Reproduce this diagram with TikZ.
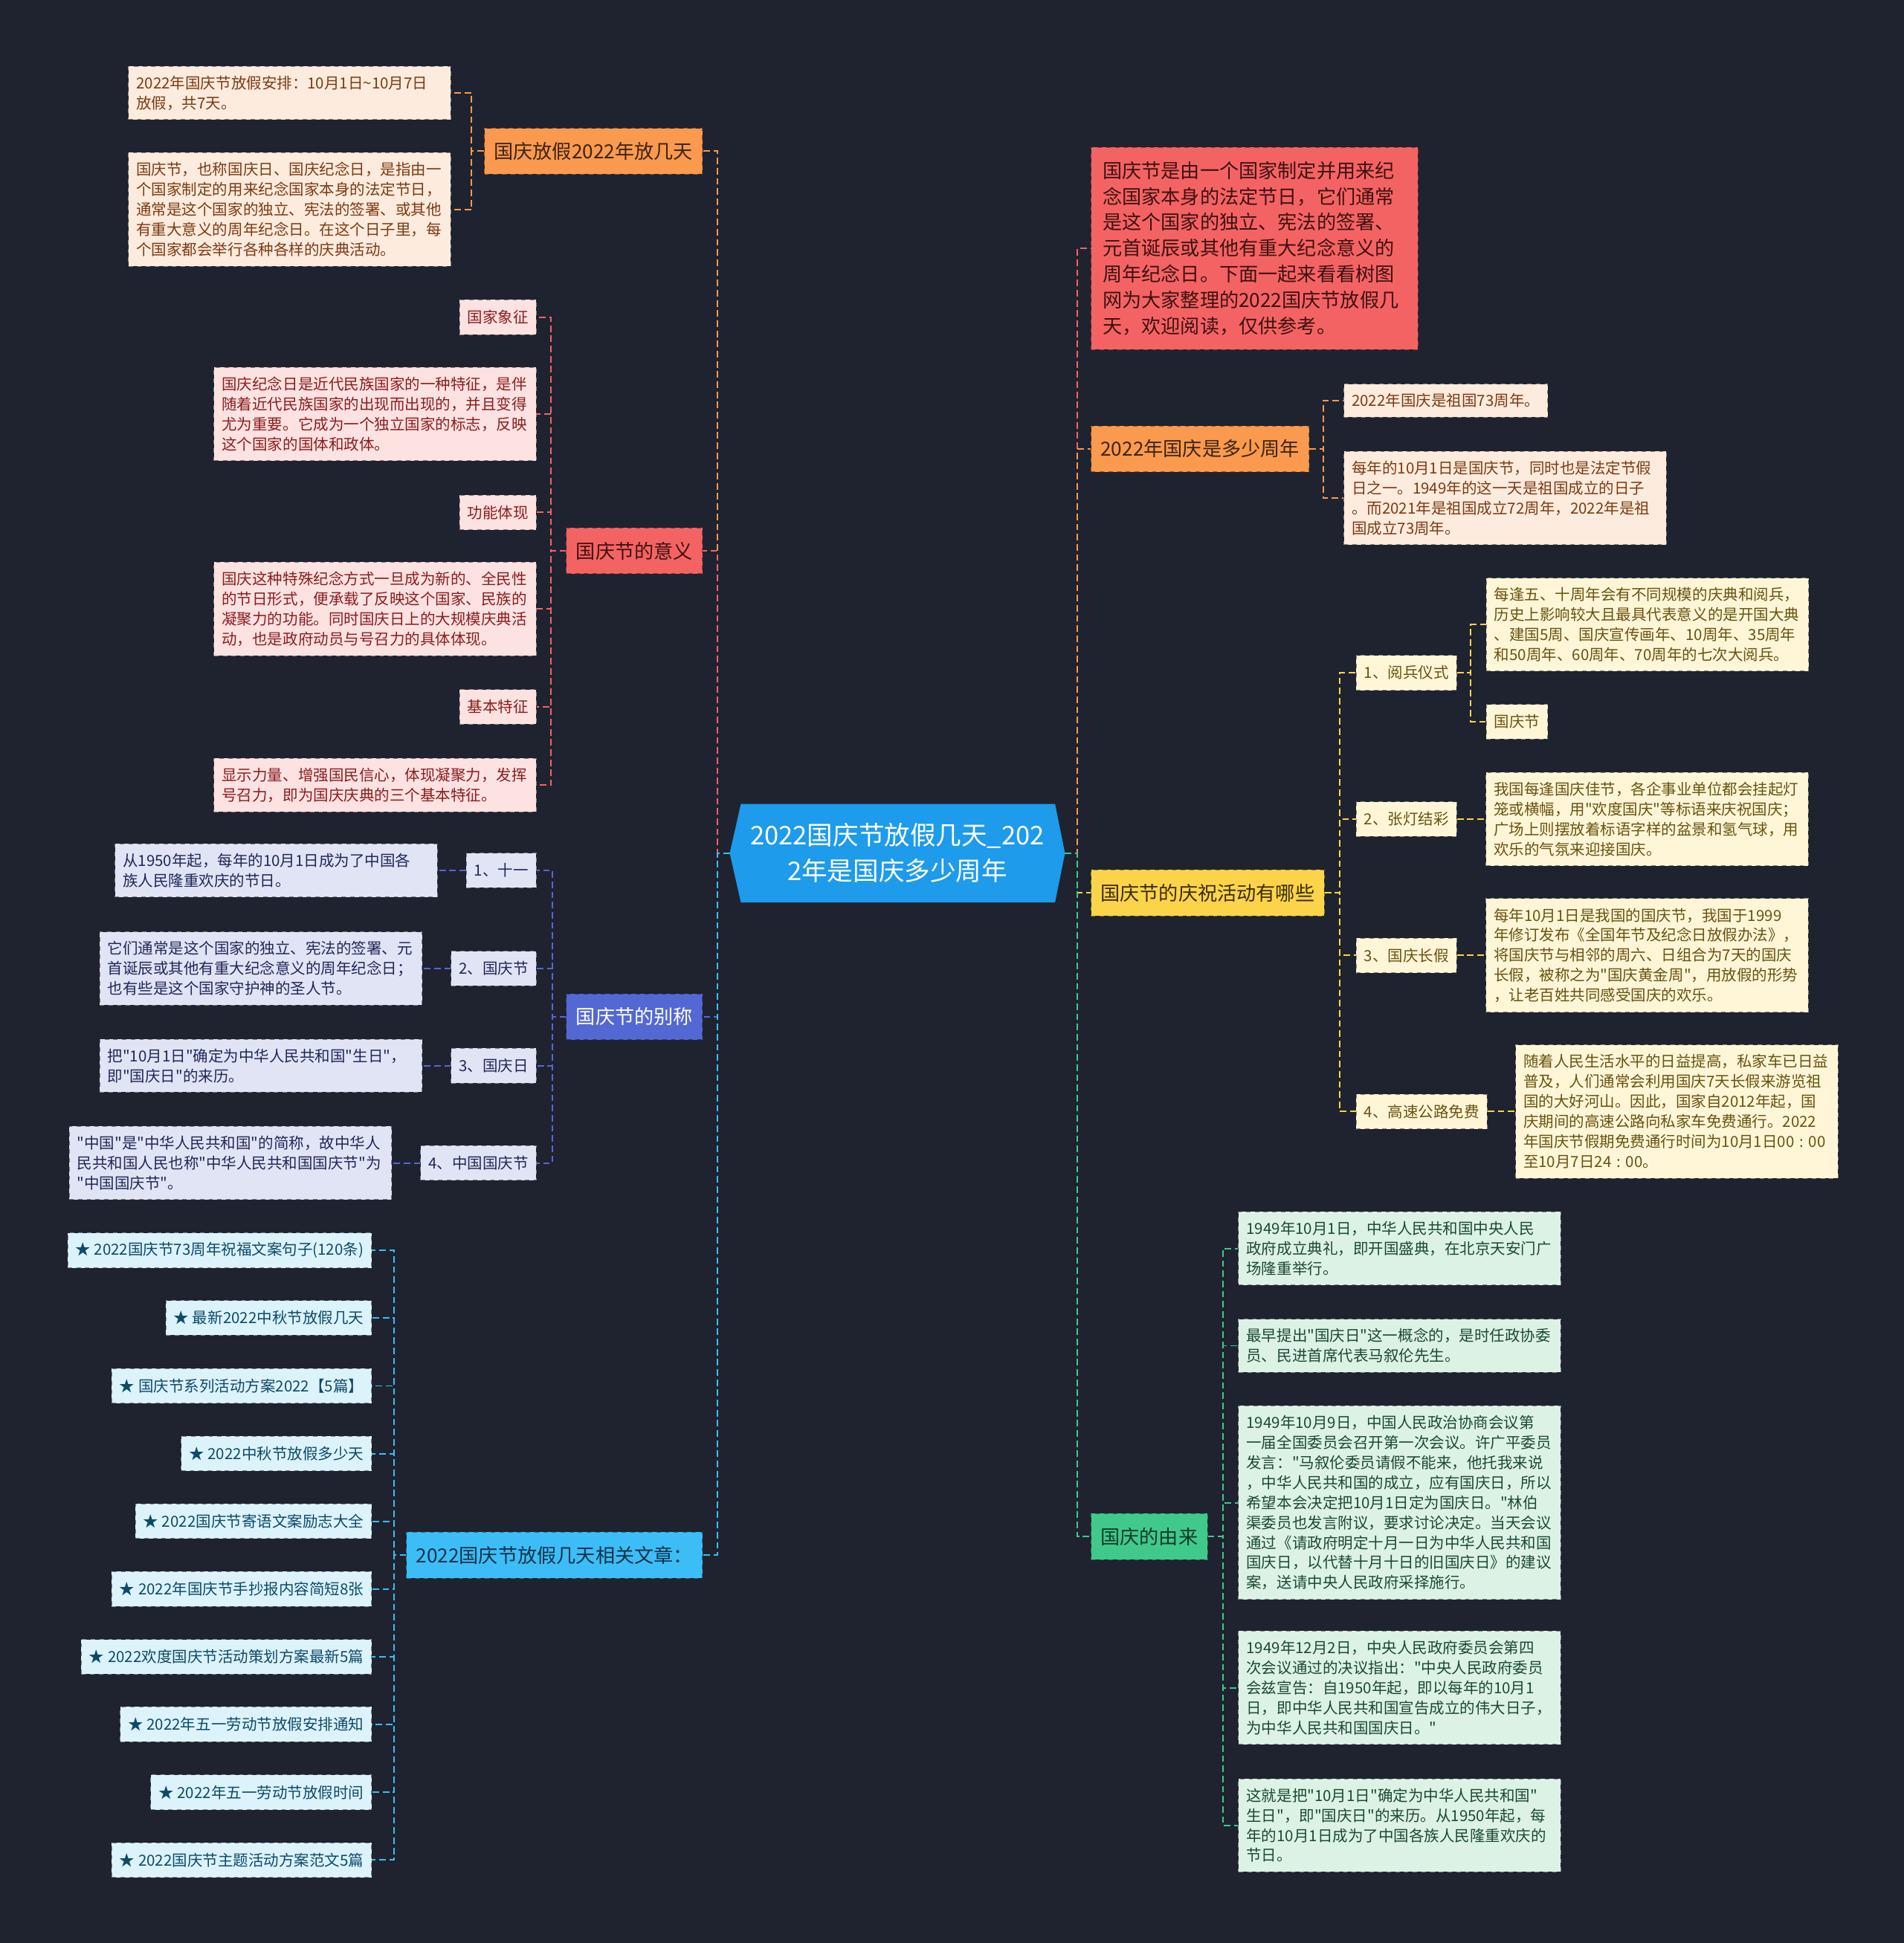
\documentclass[tikz,border=0pt]{standalone}
\usepackage{fontspec}
\setmainfont{Noto Sans CJK SC}[Ligatures=TeXOff]
\usepackage{xcolor}
\usetikzlibrary{positioning,calc,backgrounds}

\definecolor{bgdark}{HTML}{1F2330}
\definecolor{rootblue}{HTML}{1E9BEA}
% branch colours: main (head fill, links), dark (head text), fill / ink (leaves)
\definecolor{orgmain}{HTML}{F99A4E}\definecolor{orgdark}{HTML}{3D2410}
\definecolor{orgfill}{HTML}{FDEBDD}\definecolor{orgink}{HTML}{7B3B14}
\definecolor{rdmain}{HTML}{F46363}\definecolor{rddark}{HTML}{3E1111}
\definecolor{rdfill}{HTML}{FDE2E2}\definecolor{rdink}{HTML}{8B1D1D}
\definecolor{indmain}{HTML}{5468D4}\definecolor{inddark}{HTML}{FFFFFF}
\definecolor{indfill}{HTML}{E1E4F5}\definecolor{indink}{HTML}{202858}
\definecolor{skymain}{HTML}{3DBDF6}\definecolor{skydark}{HTML}{11314A}
\definecolor{skyfill}{HTML}{DCF3FC}\definecolor{skyink}{HTML}{0E4A68}
\definecolor{ylwmain}{HTML}{FBD44A}\definecolor{ylwdark}{HTML}{3A2C05}
\definecolor{ylwfill}{HTML}{FEF6D7}\definecolor{ylwink}{HTML}{6A5210}
\definecolor{grnmain}{HTML}{40C98B}\definecolor{grndark}{HTML}{0F3B27}
\definecolor{grnfill}{HTML}{DCF2E5}\definecolor{grnink}{HTML}{1B4A31}

\newcommand{\leaffont}{\fontsize{10.5pt}{13.8pt}\selectfont}
\newcommand{\headfont}{\fontsize{13.4pt}{17.9pt}\selectfont}
\newcommand{\rootfont}{\fontsize{17.7pt}{24.5pt}\selectfont}

\begin{document}
\begin{tikzpicture}[
    x=0.03cm, y=-0.03cm,
    leaf/.style={draw=#1fill!55!black, fill=#1fill, text=#1ink, dashed,
                 line width=0.5pt, font=\leaffont, align=left,
                 inner xsep=5.4pt, inner ysep=6.5pt},
    wide/.style={text width=7.42cm},
    item/.style={leaf=#1, minimum height=0.84cm},
    head/.style={draw=#1main!60!black, fill=#1main, text=#1dark, dashed,
                 line width=0.5pt, font=\headfont, align=left,
                 inner xsep=6.6pt, minimum height=1.11cm},
    lnk/.style={draw=#1main, line width=1pt, dash pattern=on 4.5pt off 2.5pt}
]

\useasboundingbox (0,0) rectangle (1536,1568);

%% ROOT
\node[font=\rootfont, text=white, align=center, minimum width=8.1cm,
      minimum height=2.37cm, inner sep=0pt]
    (root) at (724,688.5) {2022国庆节放假几天\_202\\2年是国庆多少周年};

\begin{scope}[on background layer]
\fill[bgdark] (0,0) rectangle (1536,1568);
\fill[rootblue] (root.west) -- ($(root.north west)+(9,0)$)
    -- ($(root.north east)+(-8,0)$) -- (root.east)
    -- ($(root.south east)+(-8,0)$) -- ($(root.south west)+(9,0)$) -- cycle;
\end{scope}

%% LEFT: HOLIDAY DAYS
\node[head=org, anchor=east] (days) at (567,122) {国庆放假2022年放几天};
\node[leaf=org, wide, anchor=east] (days1) at (364,75)
    {2022年国庆节放假安排：10月1日\textasciitilde10月7日\\放假，共7天。};
\node[leaf=org, wide, anchor=east] (days2) at (364,169)
    {国庆节，也称国庆日、国庆纪念日，是指由一\\个国家制定的用来纪念国家本身的法定节日，\\通常是这个国家的独立、宪法的签署、或其他\\有重大意义的周年纪念日。在这个日子里，每\\个国家都会举行各种各样的庆典活动。};

%% LEFT: MEANING
\node[head=rd, anchor=east] (meaning) at (567,444.5) {国庆节的意义};
\node[item=rd, anchor=east] (msym) at (433,256) {国家象征};
\node[leaf=rd, wide, anchor=east] (msymtxt) at (433,334)
    {国庆纪念日是近代民族国家的一种特征，是伴\\随着近代民族国家的出现而出现的，并且变得\\尤为重要。它成为一个独立国家的标志，反映\\这个国家的国体和政体。};
\node[item=rd, anchor=east] (mfunc) at (433,413.5) {功能体现};
\node[leaf=rd, wide, anchor=east] (mfunctxt) at (433,491.5)
    {国庆这种特殊纪念方式一旦成为新的、全民性\\的节日形式，便承载了反映这个国家、民族的\\凝聚力的功能。同时国庆日上的大规模庆典活\\动，也是政府动员与号召力的具体体现。};
\node[item=rd, anchor=east] (mbasic) at (433,570.5) {基本特征};
\node[leaf=rd, wide, anchor=east] (mbasictxt) at (433,633.5)
    {显示力量、增强国民信心，体现凝聚力，发挥\\号召力，即为国庆庆典的三个基本特征。};

%% LEFT: ALIASES
\node[head=ind, anchor=east] (alias) at (567,820.5) {国庆节的别称};
\node[item=ind, anchor=east] (al1) at (433,702.5) {1、十一};
\node[leaf=ind, wide, left=0.69cm of al1] (al1txt)
    {从1950年起，每年的10月1日成为了中国各\\族人民隆重欢庆的节日。};
\node[item=ind, anchor=east] (al2) at (433,781.5) {2、国庆节};
\node[leaf=ind, wide, left=0.69cm of al2] (al2txt)
    {它们通常是这个国家的独立、宪法的签署、元\\首诞辰或其他有重大纪念意义的周年纪念日；\\也有些是这个国家守护神的圣人节。};
\node[item=ind, anchor=east] (al3) at (433,860) {3、国庆日};
\node[leaf=ind, wide, left=0.69cm of al3] (al3txt)
    {把"10月1日"确定为中华人民共和国"生日"，\\即"国庆日"的来历。};
\node[item=ind, anchor=east] (al4) at (433,938.5) {4、中国国庆节};
\node[leaf=ind, wide, left=0.69cm of al4] (al4txt)
    {"中国"是"中华人民共和国"的简称，故中华人\\民共和国人民也称"中华人民共和国国庆节"为\\"中国国庆节"。};

%% LEFT: RELATED ARTICLES
\node[head=sky, anchor=east] (links) at (567,1255) {2022国庆节放假几天相关文章：};
\node[item=sky, anchor=east] (lk1) at (300,1009) {★ 2022国庆节73周年祝福文案句子(120条)};
\node[item=sky, anchor=east] (lk2) at (300,1063.6) {★ 最新2022中秋节放假几天};
\node[item=sky, anchor=east] (lk3) at (300,1118.4) {★ 国庆节系列活动方案2022【5篇】};
\node[item=sky, anchor=east] (lk4) at (300,1173) {★ 2022中秋节放假多少天};
\node[item=sky, anchor=east] (lk5) at (300,1227.6) {★ 2022国庆节寄语文案励志大全};
\node[item=sky, anchor=east] (lk6) at (300,1282.3) {★ 2022年国庆节手抄报内容简短8张};
\node[item=sky, anchor=east] (lk7) at (300,1337) {★ 2022欢度国庆节活动策划方案最新5篇};
\node[item=sky, anchor=east] (lk8) at (300,1391.5) {★ 2022年五一劳动节放假安排通知};
\node[item=sky, anchor=east] (lk9) at (300,1446.4) {★ 2022年五一劳动节放假时间};
\node[item=sky, anchor=east] (lk10) at (300,1501) {★ 2022国庆节主题活动方案范文5篇};

%% RIGHT: INTRO
\node[head=rd, anchor=west, text width=7.35cm, inner xsep=8pt, inner ysep=9.5pt]
    (intro) at (880,200.5)
    {国庆节是由一个国家制定并用来纪\\念国家本身的法定节日，它们通常\\是这个国家的独立、宪法的签署、\\元首诞辰或其他有重大纪念意义的\\周年纪念日。下面一起来看看树图\\网为大家整理的2022国庆节放假几\\天，欢迎阅读，仅供参考。};

%% RIGHT: ANNIVERSARY
\node[head=org, anchor=west] (years) at (880,362.3) {2022年国庆是多少周年};
\node[leaf=org, anchor=west] (years1) at (1084,323.3) {2022年国庆是祖国73周年。};
\node[leaf=org, wide, anchor=west] (years2) at (1084,401.8)
    {每年的10月1日是国庆节，同时也是法定节假\\日之一。1949年的这一天是祖国成立的日子\\。而2021年是祖国成立72周年，2022年是祖\\国成立73周年。};

%% RIGHT: CELEBRATIONS
\node[head=ylw, anchor=west] (events) at (880,720.5) {国庆节的庆祝活动有哪些};
\node[item=ylw, anchor=west] (parade) at (1094,543) {1、阅兵仪式};
\node[leaf=ylw, wide, anchor=west] (paradetxt) at (1199,504)
    {每逢五、十周年会有不同规模的庆典和阅兵，\\历史上影响较大且最具代表意义的是开国大典\\、建国5周、国庆宣传画年、10周年、35周年\\和50周年、60周年、70周年的七次大阅兵。};
\node[item=ylw, anchor=west] (paradeday) at (1199,582.5) {国庆节};
\node[item=ylw, anchor=west] (lantern) at (1094,661) {2、张灯结彩};
\node[leaf=ylw, wide, right=0.69cm of lantern] (lanterntxt)
    {我国每逢国庆佳节，各企事业单位都会挂起灯\\笼或横幅，用"欢度国庆"等标语来庆祝国庆；\\广场上则摆放着标语字样的盆景和氢气球，用\\欢乐的气氛来迎接国庆。};
\node[item=ylw, anchor=west] (longhol) at (1094,771) {3、国庆长假};
\node[leaf=ylw, wide, right=0.69cm of longhol] (longholtxt)
    {每年10月1日是我国的国庆节，我国于1999\\年修订发布《全国年节及纪念日放假办法》，\\将国庆节与相邻的周六、日组合为7天的国庆\\长假，被称之为"国庆黄金周"，用放假的形势\\，让老百姓共同感受国庆的欢乐。};
\node[item=ylw, anchor=west] (toll) at (1094,897) {4、高速公路免费};
\node[leaf=ylw, wide, right=0.67cm of toll] (tolltxt)
    {随着人民生活水平的日益提高，私家车已日益\\普及，人们通常会利用国庆7天长假来游览祖\\国的大好河山。因此，国家自2012年起，国\\庆期间的高速公路向私家车免费通行。2022\\年国庆节假期免费通行时间为10月1日00~:~00\\至10月7日24~:~00。};

%% RIGHT: ORIGIN
\node[head=grn, anchor=west] (origin) at (880,1240) {国庆的由来};
\node[leaf=grn, wide, anchor=west] (or1) at (999,1007.5)
    {1949年10月1日，中华人民共和国中央人民\\政府成立典礼，即开国盛典，在北京天安门广\\场隆重举行。};
\node[leaf=grn, wide, anchor=west] (or2) at (999,1086)
    {最早提出"国庆日"这一概念的，是时任政协委\\员、民进首席代表马叙伦先生。};
\node[leaf=grn, wide, anchor=west] (or3) at (999,1212.6)
    {1949年10月9日，中国人民政治协商会议第\\一届全国委员会召开第一次会议。许广平委员\\发言："马叙伦委员请假不能来，他托我来说\\，中华人民共和国的成立，应有国庆日，所以\\希望本会决定把10月1日定为国庆日。"林伯\\渠委员也发言附议，要求讨论决定。当天会议\\通过《请政府明定十月一日为中华人民共和国\\国庆日，以代替十月十日的旧国庆日》的建议\\案，送请中央人民政府采择施行。};
\node[leaf=grn, wide, anchor=west] (or4) at (999,1362)
    {1949年12月2日，中央人民政府委员会第四\\次会议通过的决议指出："中央人民政府委员\\会兹宣告：自1950年起，即以每年的10月1\\日，即中华人民共和国宣告成立的伟大日子，\\为中华人民共和国国庆日。"};
\node[leaf=grn, wide, anchor=west] (or5) at (999,1473)
    {这就是把"10月1日"确定为中华人民共和国"\\生日"，即"国庆日"的来历。从1950年起，每\\年的10月1日成为了中国各族人民隆重欢庆的\\节日。};

%% LINKS: root to branches
\draw[lnk=org] (root.west) -- ++(-10,0) |- (days.east);
\draw[lnk=rd]  (root.west) -- ++(-10,0) |- (meaning.east);
\draw[lnk=ind] (root.west) -- ++(-10,0) |- (alias.east);
\draw[lnk=sky] (root.west) -- ++(-10,0) |- (links.east);
\draw[lnk=rd]  (root.east) -- ++(10,0) |- (intro.west);
\draw[lnk=org] (root.east) -- ++(10,0) |- (years.west);
\draw[lnk=ylw] (root.east) -- ++(10,0) |- (events.west);
\draw[lnk=grn] (root.east) -- ++(10,0) |- (origin.west);

%% LINKS: left leaves
\draw[lnk=org] (days.west) -- ++(-10,0) |- (days1.east);
\draw[lnk=org] (days.west) -- ++(-10,0) |- (days2.east);

\draw[lnk=rd] (meaning.west) -- ++(-12,0) |- (msym.east);
\draw[lnk=rd] (meaning.west) -- ++(-12,0) |- (msymtxt.east);
\draw[lnk=rd] (meaning.west) -- ++(-12,0) |- (mfunc.east);
\draw[lnk=rd] (meaning.west) -- ++(-12,0) |- (mfunctxt.east);
\draw[lnk=rd] (meaning.west) -- ++(-12,0) |- (mbasic.east);
\draw[lnk=rd] (meaning.west) -- ++(-12,0) |- (mbasictxt.east);

\draw[lnk=ind] (alias.west) -- ++(-11,0) |- (al1.east);
\draw[lnk=ind] (alias.west) -- ++(-11,0) |- (al2.east);
\draw[lnk=ind] (alias.west) -- ++(-11,0) |- (al3.east);
\draw[lnk=ind] (alias.west) -- ++(-11,0) |- (al4.east);
\draw[lnk=ind] (al1.west) -- (al1txt.east);
\draw[lnk=ind] (al2.west) -- (al2txt.east);
\draw[lnk=ind] (al3.west) -- (al3txt.east);
\draw[lnk=ind] (al4.west) -- (al4txt.east);

\draw[lnk=sky] (links.west) -- ++(-10,0) |- (lk1.east);
\draw[lnk=sky] (links.west) -- ++(-10,0) |- (lk2.east);
\draw[lnk=sky] (links.west) -- ++(-10,0) |- (lk3.east);
\draw[lnk=sky] (links.west) -- ++(-10,0) |- (lk4.east);
\draw[lnk=sky] (links.west) -- ++(-10,0) |- (lk5.east);
\draw[lnk=sky] (links.west) -- ++(-10,0) |- (lk6.east);
\draw[lnk=sky] (links.west) -- ++(-10,0) |- (lk7.east);
\draw[lnk=sky] (links.west) -- ++(-10,0) |- (lk8.east);
\draw[lnk=sky] (links.west) -- ++(-10,0) |- (lk9.east);
\draw[lnk=sky] (links.west) -- ++(-10,0) |- (lk10.east);

%% LINKS: right leaves
\draw[lnk=org] (years.east) -- ++(11,0) |- (years1.west);
\draw[lnk=org] (years.east) -- ++(11,0) |- (years2.west);

\draw[lnk=ylw] (events.east) -- ++(12,0) |- (parade.west);
\draw[lnk=ylw] (events.east) -- ++(12,0) |- (lantern.west);
\draw[lnk=ylw] (events.east) -- ++(12,0) |- (longhol.west);
\draw[lnk=ylw] (events.east) -- ++(12,0) |- (toll.west);
\draw[lnk=ylw] (parade.east) -- ++(11,0) |- (paradetxt.west);
\draw[lnk=ylw] (parade.east) -- ++(11,0) |- (paradeday.west);
\draw[lnk=ylw] (lantern.east) -- (lanterntxt.west);
\draw[lnk=ylw] (longhol.east) -- (longholtxt.west);
\draw[lnk=ylw] (toll.east) -- (tolltxt.west);

\draw[lnk=grn] (origin.east) -- ++(12,0) |- (or1.west);
\draw[lnk=grn] (origin.east) -- ++(12,0) |- (or2.west);
\draw[lnk=grn] (origin.east) -- ++(12,0) |- (or3.west);
\draw[lnk=grn] (origin.east) -- ++(12,0) |- (or4.west);
\draw[lnk=grn] (origin.east) -- ++(12,0) |- (or5.west);

\end{tikzpicture}
\end{document}
